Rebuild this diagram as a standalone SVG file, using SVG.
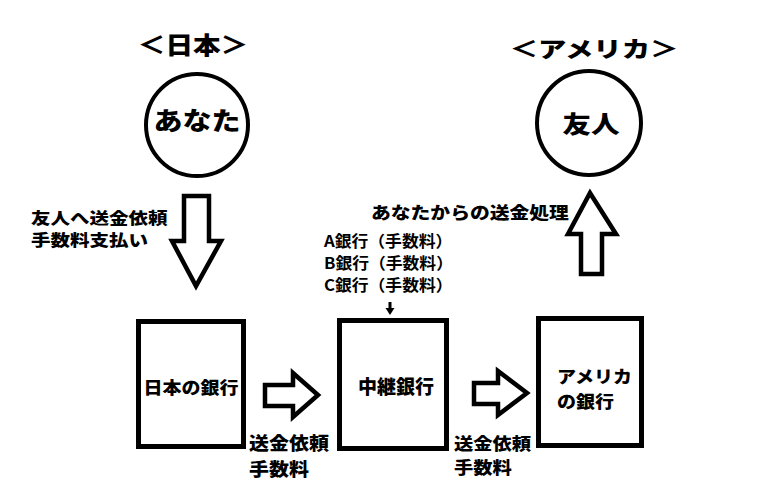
<svg xmlns="http://www.w3.org/2000/svg" width="769" height="498" viewBox="0 0 769 498">
<style>
.t{font-family:"Noto Sans CJK JP","Noto Sans CJK SC",sans-serif;font-weight:900;fill:#000}
.s{font-weight:bold}
.m{text-anchor:middle}
.box{fill:#fff;stroke:#000;stroke-width:5}
.circ{fill:#fff;stroke:#000;stroke-width:4}
.arr{fill:#fff;stroke:#000;stroke-width:4.5;stroke-linejoin:miter}
</style>
<rect width="769" height="498" fill="#fff"/>
<g id="label-japan"><text class="t m" font-size="24" transform="translate(193,54) scale(1.15,1)">＜日本＞</text></g>
<g id="label-america"><text class="t m" font-size="22" transform="translate(594,57) scale(1.29,1)">＜アメリカ＞</text></g>
<g id="node-anata">
<circle class="circ" cx="197" cy="125" r="51"/>
<text class="t m" font-size="25" transform="translate(197,130) scale(1.16,1)">あなた</text>
</g>
<g id="node-yujin">
<circle class="circ" cx="589" cy="123" r="52"/>
<text class="t m" font-size="24" transform="translate(591,133) scale(1.19,1)">友人</text>
</g>
<g id="node-japan-bank">
<rect class="box" x="138.5" y="321.5" width="105" height="125"/>
<text class="t m" font-size="17" transform="translate(191,394) scale(1.12,1)">日本の銀行</text>
</g>
<g id="node-relay-bank">
<rect class="box" x="339.5" y="320.5" width="107" height="128"/>
<text class="t m" x="396" y="394" font-size="19">中継銀行</text>
</g>
<g id="node-us-bank">
<rect class="box" x="538.5" y="318.5" width="103" height="127"/>
<text class="t" font-size="17" transform="translate(557,383) scale(1.12,1)">アメリカ</text>
<text class="t" font-size="17" transform="translate(557,408) scale(1.12,1)">の銀行</text>
</g>
<g id="connectors">
<polygon class="arr" points="184,196 209,196 209,241 221,241 196,286 172,241 184,241"/>
<polygon class="arr" points="581,274 602,274 602,234 616,234 590,193 568,234 581,234"/>
<polygon class="arr" points="265,385 293,385 293,373 318,395 293,417 293,406 265,406"/>
<polygon class="arr" points="474,383 498,383 498,371 527,393 498,415 498,404 474,404"/>
<path d="M390 302 V309" stroke="#000" stroke-width="3"/>
<polygon points="385.5,308 394.5,308 390,315" fill="#000"/>
</g>
<g id="labels">
<text class="t" font-size="16" transform="translate(31,224) scale(1.22,1)">友人へ送金依頼</text>
<text class="t" font-size="16" transform="translate(31,246) scale(1.22,1)">手数料支払い</text>
<text class="t" font-size="17" transform="translate(371,219) scale(1.165,1)">あなたからの送金処理</text>
<text class="t s" font-size="16" transform="translate(324,247) scale(1.05,1)">A銀行（手数料）</text>
<text class="t s" font-size="16" transform="translate(324,269) scale(1.05,1)">B銀行（手数料）</text>
<text class="t s" font-size="16" transform="translate(324,291) scale(1.05,1)">C銀行（手数料）</text>
<text class="t" font-size="18.5" transform="translate(249,450) scale(1.08,1)">送金依頼</text>
<text class="t" font-size="18.5" transform="translate(249,476) scale(1.08,1)">手数料</text>
<text class="t" font-size="16.5" transform="translate(454,450) scale(1.17,1)">送金依頼</text>
<text class="t" font-size="16.5" transform="translate(454,474) scale(1.17,1)">手数料</text>
</g>
</svg>
